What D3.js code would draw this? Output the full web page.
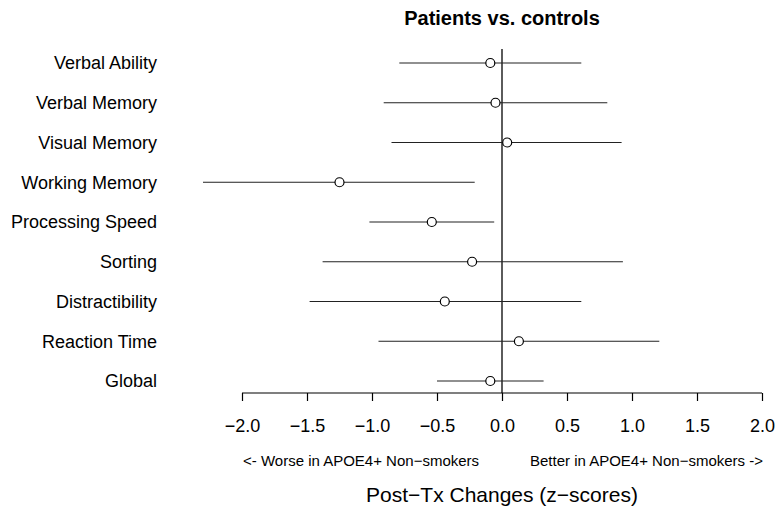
<!DOCTYPE html>
<html>
<head>
<meta charset="utf-8">
<script src="https://cdn.jsdelivr.net/npm/d3@7"></script>
<style>
  body { margin: 0; background: #fff; }
  text { font-family: "Liberation Sans", Arial, sans-serif; fill: #000; }
</style>
</head>
<body>
<div id="chart"></div>
<script>
// outcome measures, top to bottom
var measures = ["Verbal Ability", "Verbal Memory", "Visual Memory", "Working Memory",
                "Processing Speed", "Sorting", "Distractibility", "Reaction Time", "Global"];
var estimates = [-0.09, -0.05, 0.04, -1.25, -0.54, -0.23, -0.44, 0.13, -0.09];
var lower     = [-0.79, -0.91, -0.85, -2.30, -1.02, -1.38, -1.48, -0.95, -0.50];
var upper     = [0.61, 0.81, 0.92, -0.21, -0.06, 0.93, 0.61, 1.21, 0.32];
var xTicks = [-2, -1.5, -1, -0.5, 0, 0.5, 1, 1.5, 2];

var width = 777, height = 510;

var svg = d3.select("#chart").append("svg")
    .attr("width", width)
    .attr("height", height);

var x = d3.scaleLinear().domain([-2, 2]).range([242, 762]);
var y = d3.scalePoint().domain(measures).range([63, 381]);

var rows = measures.map(function(m, i) {
  return {name: m, est: estimates[i], lo: lower[i], hi: upper[i]};
});

// reference line at zero
svg.append("line")
    .attr("x1", x(0)).attr("x2", x(0))
    .attr("y1", 49).attr("y2", 393)
    .attr("stroke", "#333")
    .attr("stroke-width", 1.6);

// confidence intervals
svg.selectAll(".ci")
    .data(rows)
  .enter().append("line")
    .attr("class", "ci")
    .attr("x1", function(d) { return x(d.lo); })
    .attr("x2", function(d) { return x(d.hi); })
    .attr("y1", function(d) { return y(d.name); })
    .attr("y2", function(d) { return y(d.name); })
    .attr("stroke", "#222")
    .attr("stroke-width", 1.2);

svg.selectAll(".pt")
    .data(rows)
  .enter().append("circle")
    .attr("class", "pt")
    .attr("cx", function(d) { return x(d.est); })
    .attr("cy", function(d) { return y(d.name); })
    .attr("r", 4.5)
    .attr("fill", "#fff")
    .attr("stroke", "#000")
    .attr("stroke-width", 1.2);

// row labels
svg.selectAll(".lab")
    .data(measures)
  .enter().append("text")
    .attr("class", "lab")
    .attr("x", 157)
    .attr("y", function(d) { return y(d); })
    .attr("dy", "0.35em")
    .attr("text-anchor", "end")
    .style("font-size", "18px")
    .text(function(d) { return d; });

// x axis
var xAxis = d3.axisBottom(x)
    .tickValues(xTicks)
    .tickSize(8)
    .tickPadding(18)
    .tickFormat(function(d) { return d3.format(".1f")(d).replace("-", "\u2212"); });

var gx = svg.append("g")
    .attr("transform", "translate(0,393)")
    .call(xAxis);
gx.select(".domain").attr("d", "M" + x(-2) + ",0H" + x(2)).attr("stroke", "#000").attr("stroke-width", 1.2);
gx.selectAll(".tick line").attr("stroke", "#000").attr("stroke-width", 1.2);
gx.selectAll(".tick text")
    .style("font-family", "'Liberation Sans', Arial, sans-serif")
    .style("font-size", "18px")
    .attr("fill", "#000");

svg.append("text")
    .attr("x", 243).attr("y", 466)
    .style("font-size", "15px")
    .text("<- Worse in APOE4+ Non\u2212smokers");

svg.append("text")
    .attr("x", 763).attr("y", 466)
    .attr("text-anchor", "end")
    .style("font-size", "15px")
    .text("Better in APOE4+ Non\u2212smokers ->");

svg.append("text")
    .attr("x", x(0)).attr("y", 502)
    .attr("text-anchor", "middle")
    .style("font-size", "21px")
    .text("Post\u2212Tx Changes (z\u2212scores)");

svg.append("text")
    .attr("x", x(0)).attr("y", 25)
    .attr("text-anchor", "middle")
    .style("font-size", "20px")
    .style("font-weight", "bold")
    .text("Patients vs. controls");
</script>
</body>
</html>
